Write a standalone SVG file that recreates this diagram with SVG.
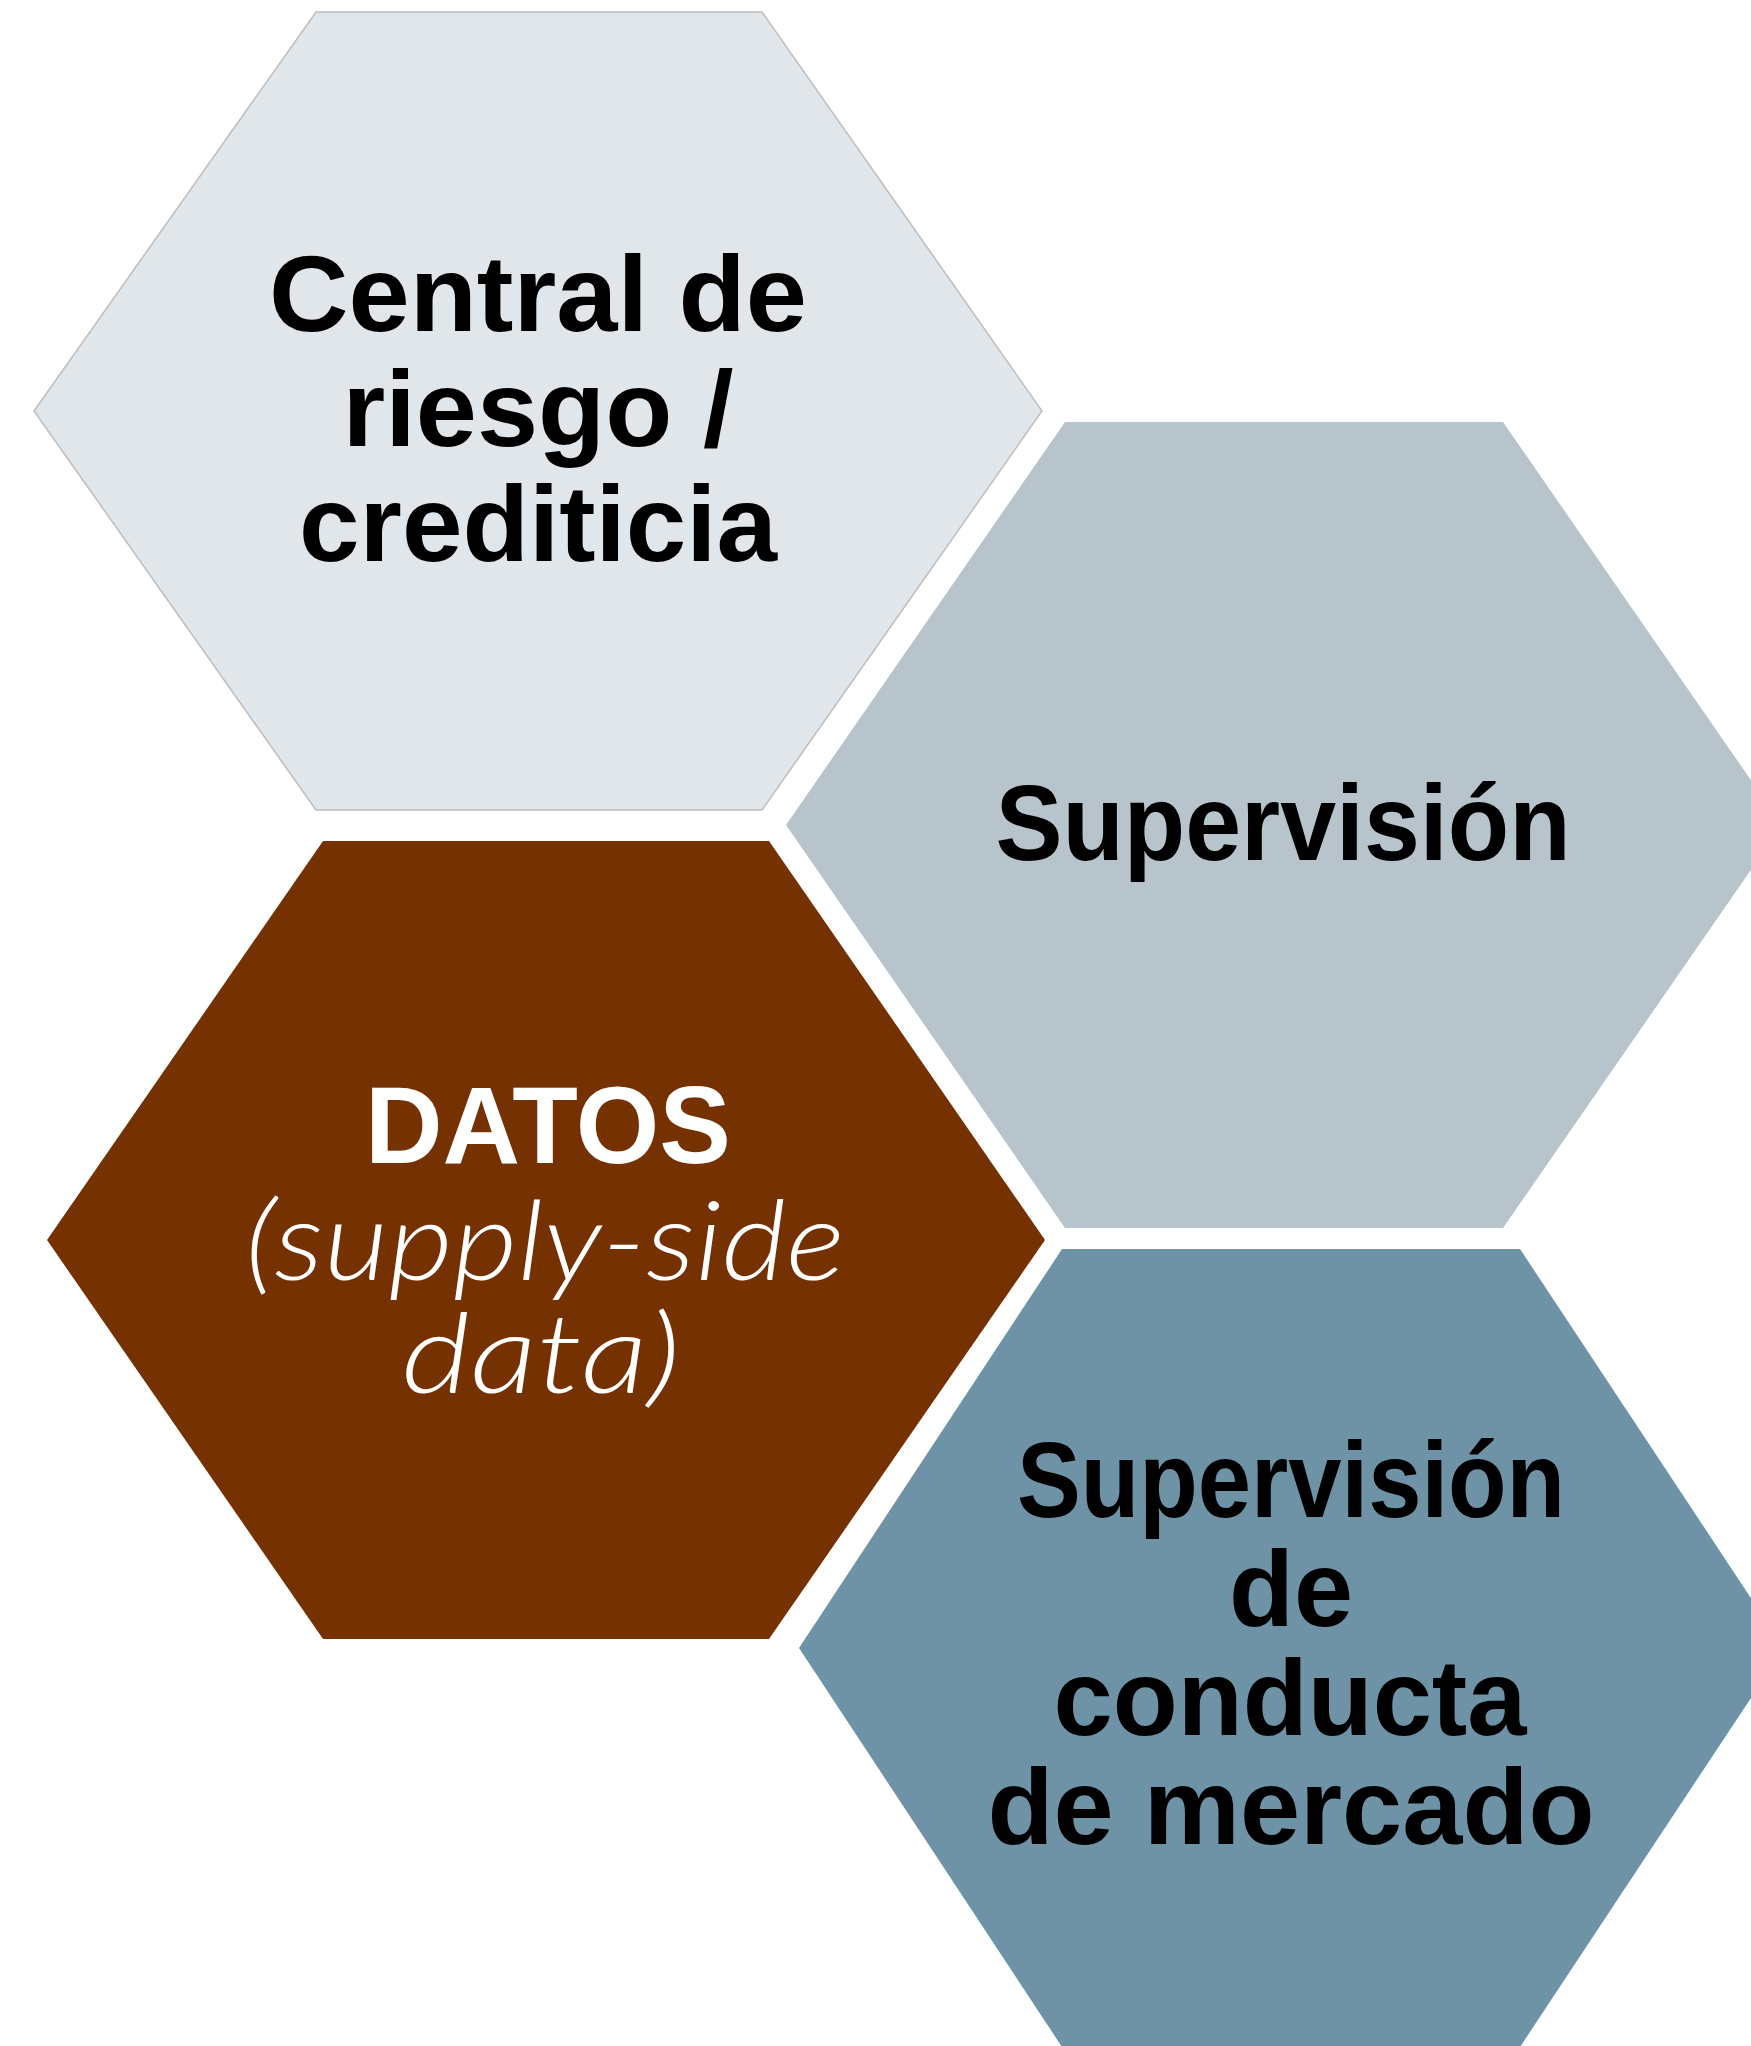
<svg xmlns="http://www.w3.org/2000/svg" width="1751" height="2046" viewBox="0 0 1751 2046">
<style>
.b{font-family:"Liberation Sans",Arial,sans-serif;font-weight:bold;font-size:108px;text-anchor:middle;fill:#000}
.w{font-family:"Liberation Sans",Arial,sans-serif;font-weight:bold;font-size:110px;text-anchor:middle;fill:#fff}
.i{font-family:"Lato","Liberation Sans",sans-serif;font-weight:300;font-style:italic;font-size:110px;text-anchor:middle;fill:#fff}
</style>
<rect width="1751" height="2046" fill="#fff"/>
<g id="connectors"/>
<g id="central">
<polygon points="316,12 762,12 1042,411 762,810 316,810 34,411" fill="#E1E6EA" stroke="#BDBDBD" stroke-width="1.5"/>
<text class="b" x="538" y="331" textLength="538" lengthAdjust="spacingAndGlyphs">Central de</text>
<text class="b" x="538" y="446" textLength="391" lengthAdjust="spacingAndGlyphs">riesgo /</text>
<text class="b" x="538" y="561" textLength="478" lengthAdjust="spacingAndGlyphs">crediticia</text>
</g>
<g id="supervision">
<polygon points="1065,422 1503,422 1782,825 1503,1228 1065,1228 786,825" fill="#B7C4CC"/>
<text class="b" x="1283" y="860" textLength="575" lengthAdjust="spacingAndGlyphs">Supervisión</text>
</g>
<g id="datos">
<polygon points="323,841 769,841 1045,1240 769,1639 323,1639 47,1240" fill="#753100"/>
<text class="w" x="548" y="1163" textLength="366" lengthAdjust="spacingAndGlyphs">DATOS</text>
<text class="i" x="545" y="1280" textLength="600" lengthAdjust="spacingAndGlyphs">(supply-side</text>
<text class="i" x="541" y="1393" textLength="279" lengthAdjust="spacingAndGlyphs">data)</text>
</g>
<g id="conducta">
<polygon points="1062,1249 1520,1249 1784,1648 1520,2047 1062,2047 799,1648" fill="#6E93A6"/>
<text class="b" x="1291" y="1517" textLength="548" lengthAdjust="spacingAndGlyphs">Supervisión</text>
<text class="b" x="1291" y="1626" textLength="124" lengthAdjust="spacingAndGlyphs">de</text>
<text class="b" x="1290" y="1735" textLength="473" lengthAdjust="spacingAndGlyphs">conducta</text>
<text class="b" x="1291" y="1844" textLength="607" lengthAdjust="spacingAndGlyphs">de mercado</text>
</g>
</svg>
